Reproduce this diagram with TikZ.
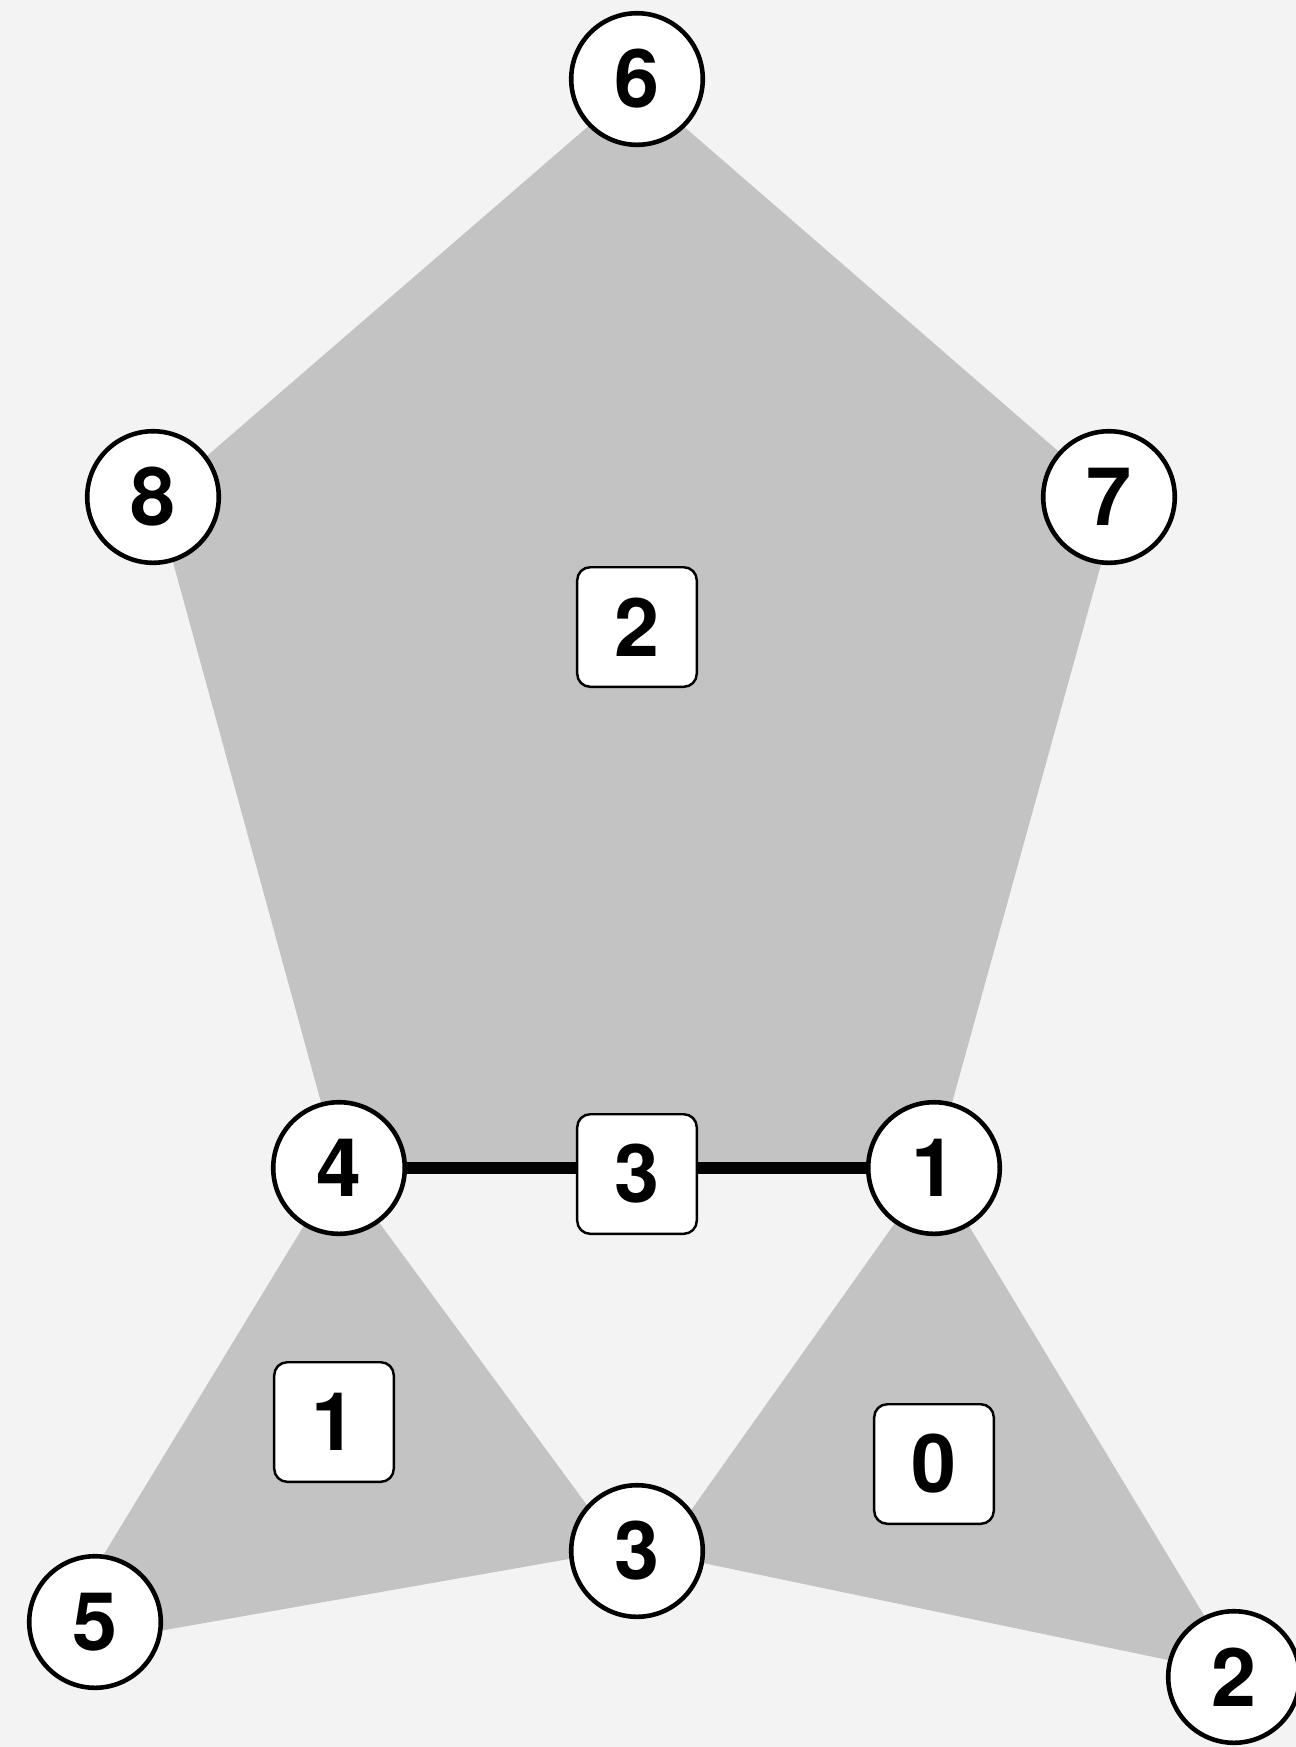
\documentclass[tikz,border=0pt]{standalone}
\usepackage{fontspec}
\setmainfont{TeX Gyre Heros}
\usetikzlibrary{backgrounds}
\definecolor{bggray}{HTML}{F3F3F3}
\definecolor{facegray}{HTML}{C3C3C3}

\begin{document}
\begin{tikzpicture}[x=0.01cm,y=-0.01cm,
    vertex/.style={circle,draw,line width=1.3pt,fill=white,
      minimum size=1.315cm,inner sep=0pt,
      font=\fontsize{23}{28}\selectfont\bfseries},
    facebox/.style={rectangle,rounded corners=0.13cm,draw,line width=0.7pt,
      fill=white,minimum size=1.195cm,inner sep=0pt,
      font=\fontsize{23}{28}\selectfont\bfseries}]
    \useasboundingbox (0,0) rectangle (1296,1747);
    \clip (0,0) rectangle (1296,1747);
    % vertices
    \node[vertex] (v6) at (637,79) {6};
    \node[vertex] (v8) at (153,497) {8};
    \node[vertex] (v7) at (1109,497) {7};
    \node[vertex] (v4) at (339,1168) {4};
    \node[vertex] (v1) at (934,1168) {1};
    \node[vertex] (v3) at (637,1551) {3};
    \node[vertex] (v5) at (95,1622) {5};
    \node[vertex] (v2) at (1234,1677) {2};
    % face corners (not quite on the vertex centres)
    \coordinate (p6) at (636,85);
    \coordinate (p7) at (1118,503);
    \coordinate (p8) at (156,500);
    \coordinate (a3) at (620,1550);
    \coordinate (a5) at (45,1651);
    \coordinate (b3) at (660,1554);
    \coordinate (b2) at (1240,1675);
    \begin{scope}[on background layer]
      \fill[bggray] (0,0) rectangle (1296,1747);
      \fill[facegray] (p6) -- (p7) -- (v1.center) -- (v4.center) -- (p8) -- cycle;
      \fill[facegray] (v4.center) -- (a3) -- (a5) -- cycle;
      \fill[facegray] (v1.center) -- (b2) -- (b3) -- cycle;
    \end{scope}
    \draw[line width=3.5pt] (v4) -- (v1);
    \node[facebox] (e3) at (637,1174) {3};
    \node[facebox] (f2) at (637,627) {2};
    \node[facebox] (f1) at (334,1422) {1};
    \node[facebox] (f0) at (934,1464) {0};
  \end{tikzpicture}
\end{document}
